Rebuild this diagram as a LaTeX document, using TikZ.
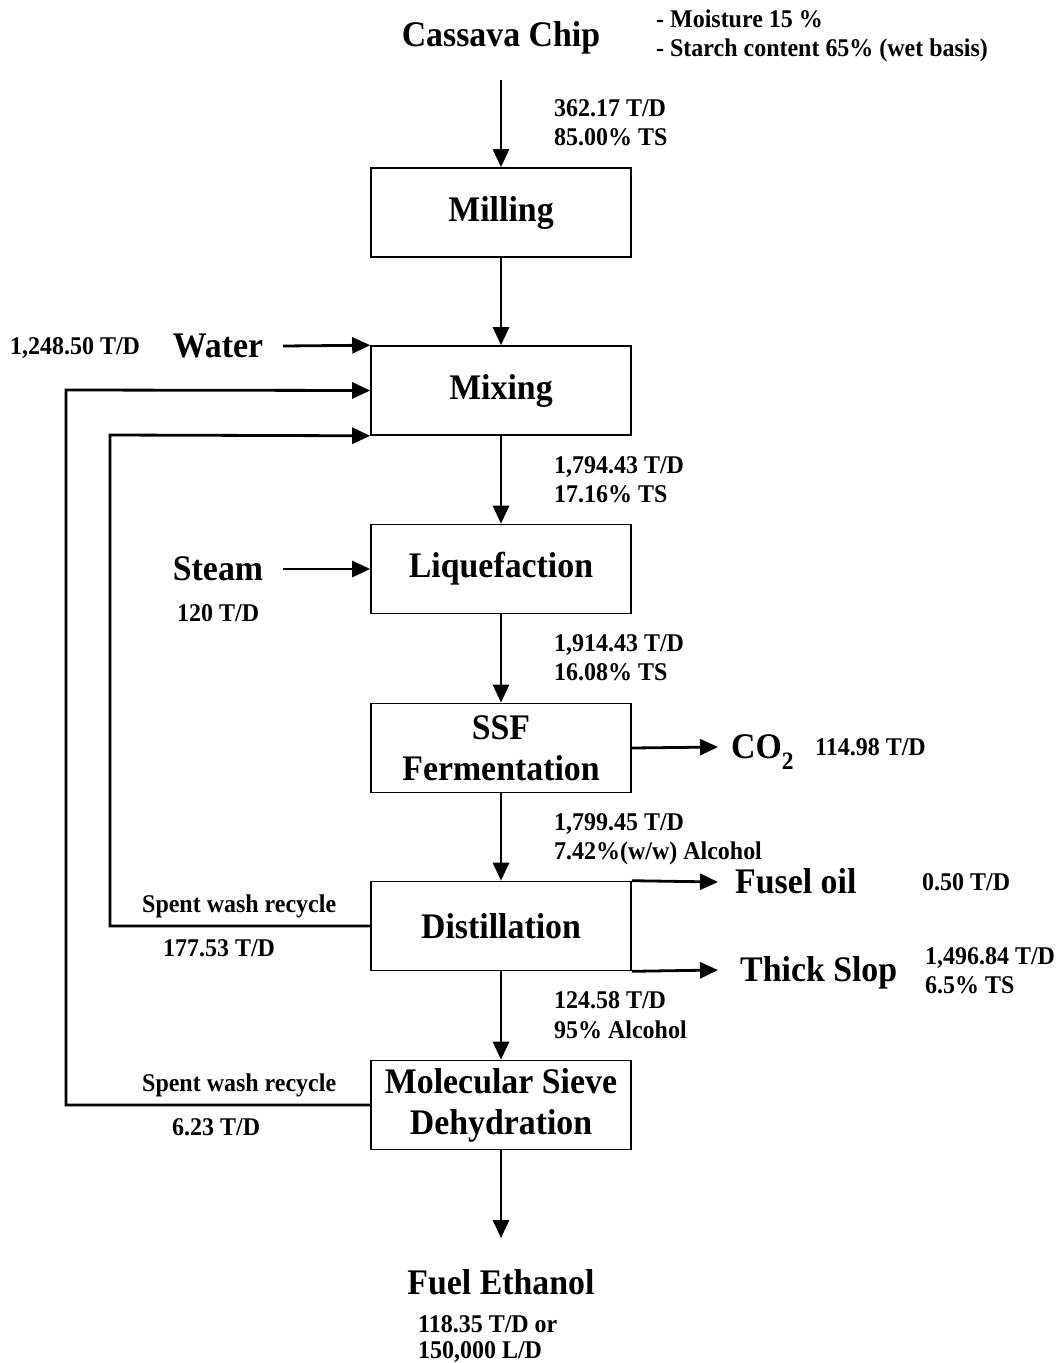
\documentclass[tikz,border=0pt]{standalone}
\usepackage{fontspec}
\setmainfont{Liberation Serif}[FakeStretch=0.94]
\usetikzlibrary{arrows.meta}
\newcommand\bigf{\fontsize{36}{41}\selectfont\bfseries}
\newcommand\smallf{\fontsize{25.5}{29}\selectfont\bfseries}
\begin{document}
\begin{tikzpicture}[x=1pt,y=-1pt,
  proc/.style={draw, line width=1.6pt, minimum width=260pt, minimum height=89pt, inner sep=0pt, align=center, font=\bigf},
  big/.style={font=\bigf, inner sep=0pt},
  small/.style={font=\smallf, inner sep=0pt},
  flow/.style={line width=2.8pt, -{Triangle[length=18pt,width=16pt]}},
  line join=miter]
\useasboundingbox (0,0) rectangle (1062,1363);
% process boxes
\node[proc] (mill) at (501,212.5) {Milling};
\node[proc] (mix) at (501,390.5) {Mixing};
\node[proc] (liq) at (501,569) {Liquefaction};
\node[proc] (ssf) at (501,748) {SSF\\[-0.5pt]Fermentation};
\node[proc] (dist) at (501,926) {Distillation};
\node[proc] (mol) at (501,1105) {Molecular Sieve\\[0pt]Dehydration};
% big labels
\node[big, anchor=base] (chip) at (501,46) {Cassava Chip};
\node[big, anchor=base] (water) at (218,357) {Water};
\node[big, anchor=base] (steam) at (218,580) {Steam};
\node[big, anchor=base west] (co2) at (731,758) {CO\raisebox{-0.32em}{\fontsize{25}{25}\selectfont 2}};
\node[big, anchor=base west] (fusel) at (735,893) {Fusel oil};
\node[big, anchor=base west] (slop) at (740,981) {Thick Slop};
\node[big, anchor=base] (fuel) at (501,1294) {Fuel Ethanol};
% small labels
\node[small, anchor=base west] (n1) at (656,27) {- Moisture 15 \%};
\node[small, anchor=base west] (n2) at (656,56) {- Starch content 65\% (wet basis)};
\node[small, anchor=base west] (f1a) at (554,116) {362.17 T/D};
\node[small, anchor=base west] (f1b) at (554,145) {85.00\% TS};
\node[small, anchor=base west] (wq) at (10,354) {1,248.50 T/D};
\node[small, anchor=base west] (f2a) at (554,473) {1,794.43 T/D};
\node[small, anchor=base west] (f2b) at (554,502) {17.16\% TS};
\node[small, anchor=base west] (sq) at (177,621) {120 T/D};
\node[small, anchor=base west] (f3a) at (554,651) {1,914.43 T/D};
\node[small, anchor=base west] (f3b) at (554,680) {16.08\% TS};
\node[small, anchor=base west] (cq) at (815,755) {114.98 T/D};
\node[small, anchor=base west] (f4a) at (554,830) {1,799.45 T/D};
\node[small, anchor=base west] (f4b) at (554,859) {7.42\%(w/w) Alcohol};
\node[small, anchor=base west] (fq) at (922,890) {0.50 T/D};
\node[small, anchor=base west] (sw1) at (142,912) {Spent wash recycle};
\node[small, anchor=base west] (sw1q) at (163,956) {177.53 T/D};
\node[small, anchor=base west] (tqa) at (925,964) {1,496.84 T/D};
\node[small, anchor=base west] (tqb) at (925,993) {6.5\% TS};
\node[small, anchor=base west] (f5a) at (554,1008) {124.58 T/D};
\node[small, anchor=base west] (f5b) at (554,1038) {95\% Alcohol};
\node[small, anchor=base west] (sw2) at (142,1091) {Spent wash recycle};
\node[small, anchor=base west] (sw2q) at (172,1135) {6.23 T/D};
\node[small, anchor=base west] (eqa) at (418,1332) {118.35 T/D or};
\node[small, anchor=base west] (eqb) at (418,1358) {150,000 L/D};
% coordinates
\coordinate (c0) at (501,80);
\coordinate (w0) at (283,346);
\coordinate (s0) at (283,569);
\coordinate (co2e) at (718,747);
\coordinate (fue) at (718,882);
\coordinate (tse) at (718,970);
\coordinate (fe) at (501,1238);
\coordinate (r1) at (110,435);
\coordinate (r2) at (66,390);
% main flow
\draw[flow] (c0) -- (mill.north);
\draw[flow] (mill.south) -- (mix.north);
\draw[flow] (mix.south) -- (liq.north);
\draw[flow] (liq.south) -- (ssf.north);
\draw[flow] (ssf.south) -- (dist.north);
\draw[flow] (dist.south) -- (mol.north);
\draw[flow] (mol.south) -- (fe);
% side streams
\draw[flow] (w0) -- (mix.north west);
\draw[flow] (s0) -- (liq.west);
\draw[flow] (ssf.east) -- (co2e);
\draw[flow] (dist.north east) -- (fue);
\draw[flow] (dist.south east) -- (tse);
% recycles
\draw[flow] (dist.west) -| (r1) -- (mix.south west);
\draw[flow] (mol.west) -| (r2) -- (mix.west);
\end{tikzpicture}
\end{document}
